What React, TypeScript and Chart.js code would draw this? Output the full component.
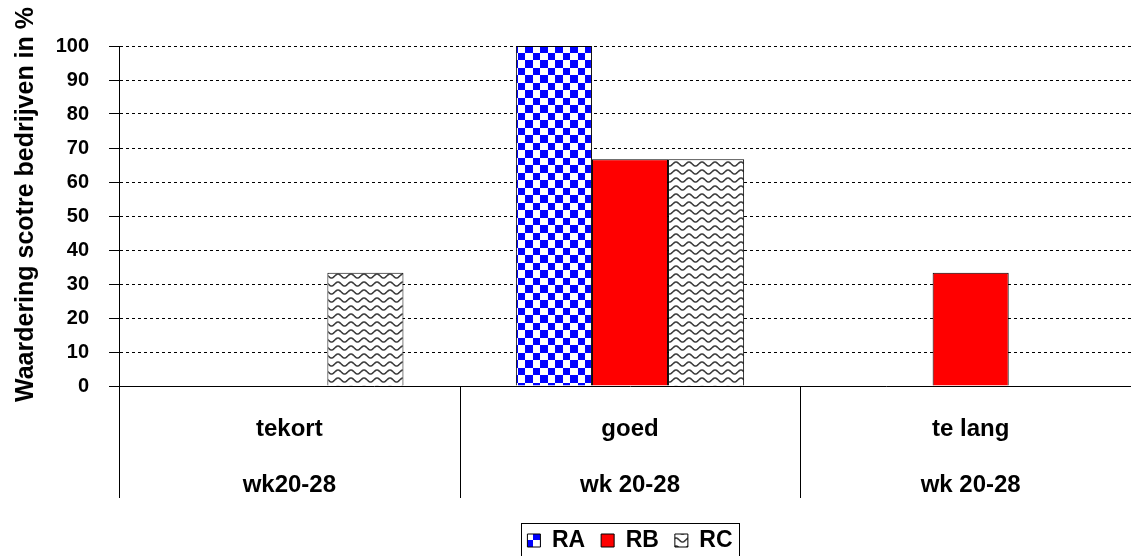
import React, { useEffect, useRef } from 'react';
import { Chart, registerables } from 'chart.js';

Chart.register(...registerables);

const FONT = "'Liberation Sans', Arial, Helvetica, sans-serif";
Chart.defaults.font.family = FONT;

// ---- data ----
const categories = [
  ['tekort', 'wk20-28'],
  ['goed', 'wk 20-28'],
  ['te lang', 'wk 20-28'],
];
const seriesNames = ['RA', 'RB', 'RC'];
const raValues = [0, 100, 0];
const rbValues = [0, 66.7, 33.3];
const rcValues = [33.3, 66.7, 0];
const yMin = 0;
const yMax = 100;
const yStep = 10;
const yTitle = 'Waardering scotre bedrijven in %';

function checkerPattern(ctx: CanvasRenderingContext2D) {
  const c = document.createElement('canvas');
  c.width = 15;
  c.height = 15;
  const g = c.getContext('2d')!;
  g.fillStyle = '#ffffff';
  g.fillRect(0, 0, 15, 15);
  g.fillStyle = '#0000ff';
  g.fillRect(0, 0, 8, 8);
  g.fillRect(8, 8, 7, 7);
  return ctx.createPattern(c, 'repeat')!;
}

function wavePattern(ctx: CanvasRenderingContext2D) {
  const w = 13;
  const h = 8;
  const c = document.createElement('canvas');
  c.width = w;
  c.height = h;
  const g = c.getContext('2d')!;
  g.fillStyle = '#ffffff';
  g.fillRect(0, 0, w, h);
  g.strokeStyle = '#3c3c3c';
  g.lineWidth = 1.6;
  for (const off of [-h, 0, h]) {
    g.beginPath();
    for (let x = 0; x <= w; x += 0.5) {
      const y = 4 + off - 2 * Math.cos((2 * Math.PI * x) / w);
      if (x === 0) g.moveTo(x, y);
      else g.lineTo(x, y);
    }
    g.stroke();
  }
  return ctx.createPattern(c, 'repeat')!;
}

const yTitlePlugin = {
  id: 'yTitleText',
  afterDraw(chart: any) {
    const ctx = chart.ctx;
    ctx.save();
    ctx.translate(33, 402);
    ctx.rotate(-Math.PI / 2);
    ctx.font = `bold 25px ${FONT}`;
    ctx.fillStyle = '#000';
    ctx.textAlign = 'left';
    ctx.textBaseline = 'alphabetic';
    ctx.fillText(yTitle, 0, 0);
    ctx.restore();
  },
};

// vertical separators between the category groups below the x axis
const dividerPlugin = {
  id: 'categoryDividers',
  afterDraw(chart: any) {
    const xs = chart.scales.x;
    const n = xs.ticks.length;
    const step = (xs.right - xs.left) / n;
    const ctx = chart.ctx;
    ctx.save();
    ctx.strokeStyle = '#000';
    ctx.lineWidth = 1;
    ctx.beginPath();
    for (let i = 0; i <= n; i++) {
      const x = Math.round(xs.left + i * step) + 0.5;
      ctx.moveTo(x, xs.top);
      ctx.lineTo(x, xs.top + 112);
    }
    ctx.stroke();
    ctx.restore();
  },
};

const legendBorderPlugin = {
  id: 'legendBorder',
  afterDraw(chart: any) {
    const lg = chart.legend;
    if (!lg || !lg.legendHitBoxes || !lg.legendHitBoxes.length) return;
    const hb = lg.legendHitBoxes;
    const first = hb[0];
    const last = hb[hb.length - 1];
    const left = Math.round(first.left - 6) + 0.5;
    const right = Math.round(last.left + last.width + 6) + 0.5;
    const top = Math.round(lg.top + 10) + 0.5;
    const ctx = chart.ctx;
    ctx.save();
    ctx.strokeStyle = '#000';
    ctx.lineWidth = 1;
    ctx.strokeRect(left, top, right - left, 40);
    ctx.restore();
  },
};

export default function App() {
  const ref = useRef<HTMLCanvasElement | null>(null);

  useEffect(() => {
    const canvas = ref.current!;
    const ctx = canvas.getContext('2d')!;
    const raFill = checkerPattern(ctx);
    const rcFill = wavePattern(ctx);
    const fills = [raFill, '#ff0000', rcFill];
    const values = [raValues, rbValues, rcValues];

    const chart = new Chart(canvas, {
      type: 'bar',
      data: {
        labels: categories,
        datasets: seriesNames.map((name, i) => ({
          label: name,
          data: values[i],
          backgroundColor: fills[i] as any,
          borderColor: '#000000',
          borderWidth: 1,
          categoryPercentage: 0.67,
          barPercentage: 1,
        })),
      },
      options: {
        animation: false,
        responsive: false,
        maintainAspectRatio: false,
        layout: { padding: { left: 0, top: 46, right: 0, bottom: 0 } },
        plugins: {
          tooltip: { enabled: false },
          title: { display: false },
          legend: {
            display: true,
            position: 'bottom',
            align: 'center',
            fullSize: false,
            labels: {
              boxWidth: 13,
              boxHeight: 13,
              padding: 16,
              color: '#000',
              font: { size: 23, weight: 'bold' },
            },
          },
        },
        scales: {
          x: {
            offset: true,
            grid: {
              display: true,
              drawOnChartArea: false,
              drawTicks: true,
              tickLength: 15,
              tickColor: 'rgba(0,0,0,0)',
              offset: true,
              color: '#000',
            },
            border: { display: true, color: '#000', width: 1 },
            ticks: {
              color: '#000',
              font: { size: 24, weight: 'bold', lineHeight: '56px' } as any,
              padding: 0,
              maxRotation: 0,
              autoSkip: false,
            },
          },
          y: {
            min: yMin,
            max: yMax,
            afterFit: (scale: any) => {
              scale.width = 119;
            },
            ticks: {
              stepSize: yStep,
              padding: 20,
              color: '#000',
              font: { size: 20, weight: 'bold' },
            },
            grid: {
              color: (c: any) => (c.tick && c.tick.value === 0 ? 'rgba(0,0,0,0)' : '#000'),
              lineWidth: 1,
              tickLength: 10,
              tickColor: '#000',
              tickWidth: 1,
              tickBorderDash: [],
            },
            border: { display: true, color: '#000', width: 1, dash: [3, 3] },
          },
        },
      },
      plugins: [yTitlePlugin, dividerPlugin, legendBorderPlugin],
    });
    return () => chart.destroy();
  }, []);

  return (
    <div
      style={{
        position: 'absolute',
        left: 0,
        top: 0,
        width: 1131,
        height: 556,
        overflow: 'hidden',
        background: '#ffffff',
      }}
    >
      <canvas ref={ref} width={1141} height={562} style={{ width: 1141, height: 562, display: 'block' }} />
    </div>
  );
}
